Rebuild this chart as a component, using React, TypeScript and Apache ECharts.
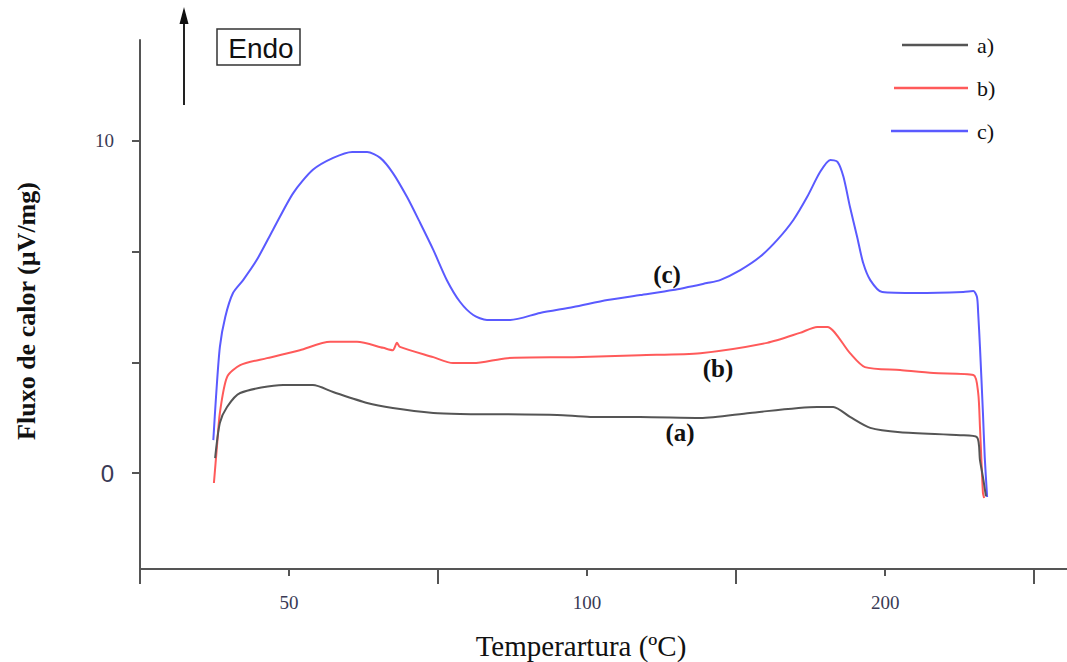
import React, { useEffect, useRef } from "react";
import * as echarts from "echarts";

// Temperature (axis units) / heat flow (µV/mg) pairs
const seriesA: [number, number][] = [
  [37.6, 0.45], [38.4, 1.51], [39.6, 1.99], [41.8, 2.41], [49.0, 2.65], [54.0, 2.65],
  [57.4, 2.44], [63.1, 2.11], [67.4, 1.96], [74.2, 1.81], [78.7, 1.78], [95.0, 1.75],
  [100.5, 1.69], [108.9, 1.69], [119.0, 1.66], [127.3, 1.81], [138.6, 1.99], [141.3, 1.99],
  [144.1, 1.69], [147.5, 1.36], [152.5, 1.23], [162.6, 1.14], [165.4, 1.08], [165.9, 0.39],
  [166.4, -0.12], [166.9, -0.7],
];
const seriesB: [number, number][] = [
  [37.4, -0.3], [37.9, 0.78], [38.4, 1.81], [39.6, 2.89], [41.8, 3.25], [46.3, 3.46],
  [51.8, 3.7], [56.9, 3.95], [61.4, 3.95], [65.8, 3.77], [67.4, 3.7], [68.1, 3.92],
  [68.6, 3.8], [74.2, 3.49], [77.5, 3.31], [80.9, 3.31], [86.6, 3.46], [97.7, 3.49],
  [108.9, 3.55], [119.0, 3.61], [130.2, 3.92], [135.7, 4.22], [138.6, 4.4], [140.3, 4.4],
  [144.1, 3.61], [146.6, 3.19], [152.5, 3.1], [158.1, 3.01], [164.8, 2.95], [165.6, 2.41],
  [165.9, 1.39], [166.4, -0.6], [166.6, -0.75],
];
const seriesC: [number, number][] = [
  [37.3, 0.99], [37.75, 2.29], [38.4, 3.8], [39.3, 4.7], [40.6, 5.42], [42.3, 5.81],
  [44.6, 6.42], [47.3, 7.32], [50.7, 8.43], [54.0, 9.13], [57.4, 9.49], [60.6, 9.67],
  [63.1, 9.67], [65.3, 9.49], [67.4, 9.04], [69.8, 8.31], [72.0, 7.53], [74.2, 6.72],
  [76.5, 5.8], [78.7, 5.15], [80.9, 4.76], [83.2, 4.61], [87.1, 4.61], [92.1, 4.82],
  [97.7, 5.0], [103.4, 5.21], [108.9, 5.36], [114.4, 5.51], [120.1, 5.72], [122.3, 5.81],
  [125.7, 6.11], [129.0, 6.51], [131.9, 7.02], [134.6, 7.62], [136.9, 8.31], [139.1, 9.07],
  [140.8, 9.43], [142.0, 9.37], [143.0, 8.92], [144.1, 8.01], [145.3, 7.11], [146.3, 6.33],
  [147.5, 5.81], [149.5, 5.45], [155.4, 5.42], [163.1, 5.45], [164.8, 5.48], [165.4, 5.3],
  [165.6, 4.82], [165.9, 3.8], [166.4, 1.81], [166.7, 0.48], [167.1, -0.72],
];

const seriesNames = ["a)", "b)", "c)"];
const seriesColors = ["#555555", "#ff5a5a", "#5a5aff"];
const curveLabels = ["(a)", "(b)", "(c)"];

const xLabelTicks = [50, 100, 150];
const xLabelTexts = ["50", "100", "200"];
const xMajorTicks = [25, 75, 125, 175];
const yTicks = [0, 10 / 3, 20 / 3, 10];
const yLabelTicks = [0, 10];

export default function App() {
  const ref = useRef<HTMLDivElement>(null);
  useEffect(() => {
    const chart = echarts.init(ref.current!, null, { renderer: "svg" });
    const axisColor = "#555555";
    const labelColor = "#3a3a55";
    const legendY = [45, 88, 131];
    const legendX0 = [902, 894, 891];
    chart.setOption({
      animation: false,
      backgroundColor: "#ffffff",
      grid: { left: 140, right: 0, top: 40, bottom: 93 },
      xAxis: [
        {
          type: "value",
          min: 25,
          max: 180.5,
          position: "bottom",
          splitLine: { show: false },
          axisLine: { show: true, onZero: false, lineStyle: { color: axisColor, width: 2 } },
          axisTick: { show: true, customValues: xLabelTicks, length: 7, lineStyle: { color: axisColor, width: 2 } },
          axisLabel: {
            show: true,
            customValues: xLabelTicks,
            margin: 24,
            formatter: (v: number) => {
              const i = xLabelTicks.indexOf(v);
              return i >= 0 ? "{n|" + xLabelTexts[i] + "}" : "";
            },
            rich: { n: { fontSize: 19, fontFamily: "Liberation Serif", color: labelColor } },
          },
        },
        {
          type: "value",
          min: 25,
          max: 180.5,
          position: "bottom",
          splitLine: { show: false },
          axisLine: { show: false, onZero: false },
          axisTick: { show: true, customValues: xMajorTicks, length: 15, lineStyle: { color: axisColor, width: 2 } },
          axisLabel: { show: false },
        },
      ],
      yAxis: {
        type: "value",
        min: -2.89,
        max: 13.04,
        splitLine: { show: false },
        axisLine: { show: true, onZero: false, lineStyle: { color: axisColor, width: 2 } },
        axisTick: { show: true, customValues: yTicks, length: 8, lineStyle: { color: axisColor, width: 2 } },
        axisLabel: {
          show: true,
          customValues: yLabelTicks,
          margin: 26,
          formatter: (v: number) => (v === 0 ? "{big|0}" : "{n|" + v + "}"),
          rich: {
            big: { fontSize: 24, fontFamily: "Liberation Sans", color: labelColor },
            n: { fontSize: 19, fontFamily: "Liberation Serif", color: labelColor },
          },
        },
      },
      series: [seriesA, seriesB, seriesC].map((d, i) => ({
        name: seriesNames[i],
        type: "line",
        data: d,
        showSymbol: false,
        symbol: "none",
        smooth: 0.25,
        lineStyle: { color: seriesColors[i], width: 2 },
        itemStyle: { color: seriesColors[i] },
        z: 3 - i,
      })),
      graphic: [
        // Endo arrow and box
        { type: "line", shape: { x1: 184, y1: 105, x2: 184, y2: 20 }, style: { stroke: "#222", lineWidth: 2 } },
        { type: "polygon", shape: { points: [[184, 7], [188.5, 24], [179.5, 24]] }, style: { fill: "#111" } },
        { type: "rect", shape: { x: 217, y: 29, width: 83, height: 36 }, style: { fill: "none", stroke: "#333", lineWidth: 1.5 } },
        {
          type: "text",
          x: 261,
          y: 48,
          style: { text: "Endo", fontFamily: "Liberation Sans", fontSize: 28, fill: "#111", align: "center", verticalAlign: "middle" },
        },
        // legend
        ...seriesNames.flatMap((n, i) => [
          { type: "line", shape: { x1: legendX0[i], y1: legendY[i], x2: 968, y2: legendY[i] }, style: { stroke: seriesColors[i], lineWidth: 2.5 } },
          {
            type: "text",
            x: 977,
            y: legendY[i],
            style: { text: n, fontFamily: "Liberation Serif", fontSize: 22, fill: "#111", align: "left", verticalAlign: "middle" },
          },
        ]),
        // curve labels
        ...curveLabels.map((t, i) => ({
          type: "text",
          x: [680, 718, 667][i],
          y: [432, 368, 274][i],
          style: { text: t, fontFamily: "Liberation Serif", fontWeight: "bold", fontSize: 25, fill: "#111", align: "center", verticalAlign: "middle" },
        })),
        // axis names
        {
          type: "text",
          x: 581,
          y: 646,
          style: { text: "Temperartura (ºC)", fontFamily: "Liberation Serif", fontSize: 29, fill: "#111", align: "center", verticalAlign: "middle" },
        },
        {
          type: "text",
          x: 26,
          y: 311,
          rotation: Math.PI / 2,
          style: { text: "Fluxo de calor (µV/mg)", fontFamily: "Liberation Serif", fontWeight: "bold", fontSize: 26, fill: "#111", align: "center", verticalAlign: "middle" },
        },
      ],
    });
    return () => chart.dispose();
  }, []);
  return <div ref={ref} style={{ position: "absolute", left: 0, top: 0, width: 1067, height: 662 }} />;
}
